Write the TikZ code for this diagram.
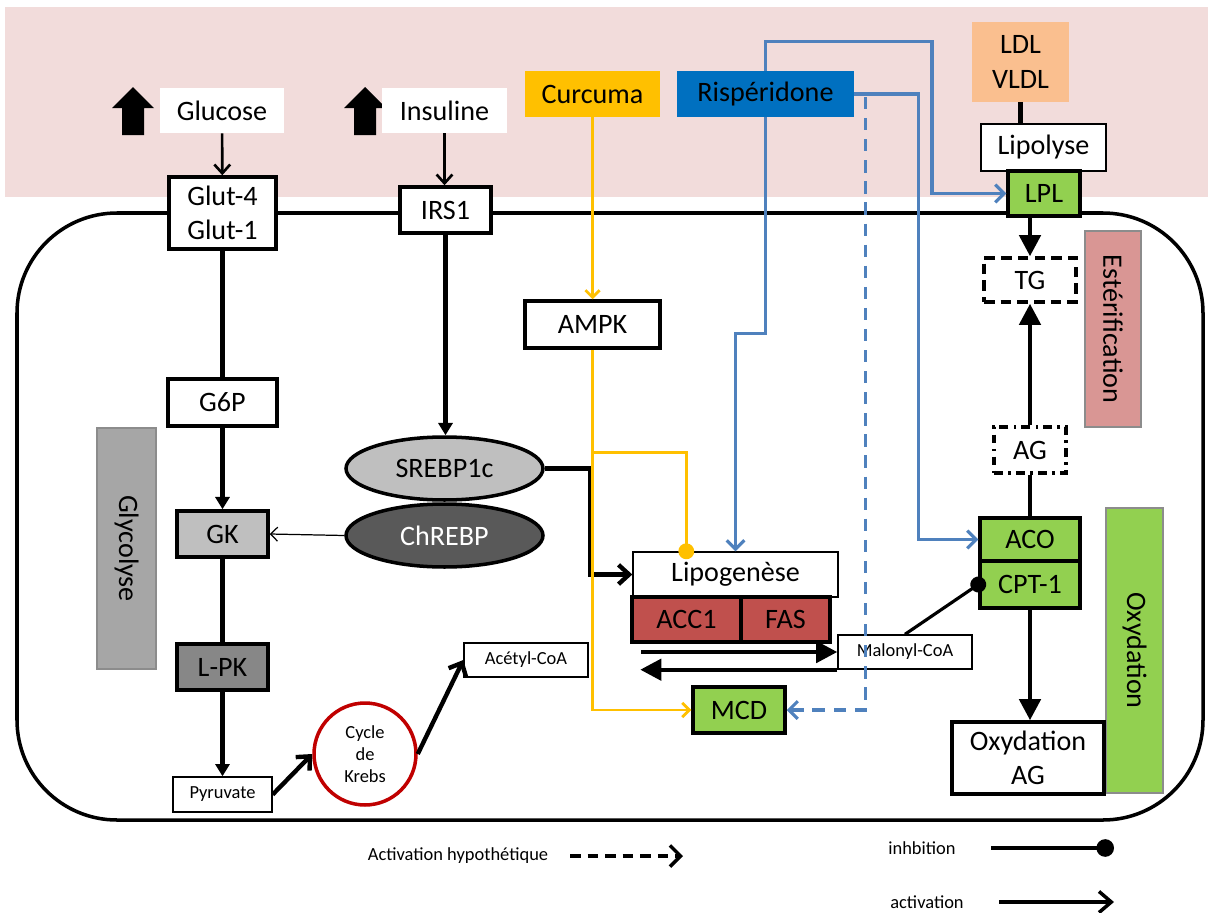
\documentclass[tikz,border=0pt]{standalone}
\usepackage{fontspec}
\setmainfont{Carlito}
\usepackage{tikz}
\usetikzlibrary{positioning, arrows.meta, shapes.geometric}
\definecolor{pinkbg}{RGB}{242,220,219}
\definecolor{curcumayellow}{RGB}{255,192,0}
\definecolor{rispblue}{RGB}{0,112,192}
\definecolor{linkblue}{RGB}{79,129,189}
\definecolor{leafgreen}{RGB}{146,208,80}
\definecolor{enzred}{RGB}{192,80,77}
\definecolor{esterpink}{RGB}{217,150,148}
\definecolor{ldlpeach}{RGB}{250,191,143}
\definecolor{krebsred}{RGB}{192,0,0}
\definecolor{gkgray}{RGB}{191,191,191}
\definecolor{lpkgray}{RGB}{135,135,135}
\definecolor{glycogray}{RGB}{166,166,166}
\definecolor{srebpgray}{RGB}{191,191,191}
\definecolor{chrebpgray}{RGB}{89,89,89}
\tikzset{
  bigtxt/.style={font=\fontsize{16}{19.5}\selectfont},
  smalltxt/.style={font=\fontsize{10.5}{12.7}\selectfont},
  plainbox/.style={fill=white, bigtxt, inner sep=0pt},
  drugbox/.style={bigtxt, inner sep=0pt},
  membox/.style={draw=black, line width=2pt, fill=white, bigtxt, inner sep=0pt},
  thinbox/.style={draw=black, line width=0.8pt, fill=white, bigtxt, inner sep=0pt},
  sidebar/.style={draw=black!45, line width=0.7pt, rotate=-90, bigtxt, inner sep=0pt},
  tfnode/.style={ellipse, draw=black, line width=2pt, bigtxt, inner sep=0pt},
  krebsnode/.style={circle, draw=krebsred, line width=2pt, fill=white, smalltxt,
    align=center, inner sep=0pt, minimum size=2.04cm},
  actthin/.style={line width=1.5pt, -{Straight Barb[length=5pt,width=9pt]}},
  actthick/.style={line width=2.5pt, -{Straight Barb[length=6pt,width=11pt]}},
  trismall/.style={line width=2.5pt, -{Triangle[length=7pt,width=8pt]}},
  tribig/.style={line width=2.5pt, -{Triangle[length=12pt,width=12pt]}},
  plainlink/.style={line width=2.5pt},
  thinlink/.style={line width=0.7pt, -{Straight Barb[length=4pt,width=8pt]}},
  yellowlink/.style={draw=curcumayellow, line width=1.6pt, -{Straight Barb[length=4pt,width=8pt]}},
  yellowinhib/.style={draw=curcumayellow, line width=1.6pt, -{Circle[length=9pt]}, shorten >=-4.5pt},
  bluelink/.style={draw=linkblue, line width=1.8pt, -{Straight Barb[length=5pt,width=10pt]}},
  bluedash/.style={bluelink, dash pattern=on 7pt off 5pt},
  inhib/.style={line width=1.8pt, -{Circle[length=9pt]}, shorten >=-4.5pt}
}

\begin{document}
\begin{tikzpicture}[x=0.02cm, y=-0.02cm]
  \useasboundingbox (0,0) rectangle (1208,913);
  \fill[pinkbg] (5,7) rectangle (1208,197);
  \draw[line width=2pt, rounded corners=2cm] (17,213) rectangle (1203,820);
  \foreach \xa in {133,365}
    \fill (\xa-11,135) -- (\xa-11,108) -- (\xa-21,108) -- (\xa,87) -- (\xa+21,108) -- (\xa+11,108) -- (\xa+11,135) -- cycle;

  \node[plainbox, minimum width=2.48cm, minimum height=0.9cm] (glucose) at (222,110.5) {Glucose};
  \node[plainbox, minimum width=2.5cm, minimum height=0.9cm] (insuline) at (444.5,110.5) {Insuline};
  \node[membox, minimum width=2.14cm, minimum height=1.44cm, align=center] (glut) at (222.5,213) {Glut-4\\Glut-1};
  \node[membox, minimum width=1.82cm, minimum height=0.92cm] (irs) at (445.5,210) {IRS1};
  \node[drugbox, fill=curcumayellow, minimum width=2.7cm, minimum height=0.92cm] (curcuma) at (592.5,94) {Curcuma};
  \node[drugbox, fill=rispblue, minimum width=3.54cm, minimum height=0.92cm] (risp) at (765.5,94) {Rispéridone};
  \node[drugbox, fill=ldlpeach, minimum width=1.94cm, minimum height=1.6cm, align=center] (ldl) at (1020.5,62) {LDL\\VLDL};
  \node[thinbox, minimum width=2.5cm, minimum height=0.94cm] (lipolyse) at (1043.5,147.5) {Lipolyse};
  \node[membox, fill=leafgreen, minimum width=1.44cm, minimum height=0.9cm] (lpl) at (1044,193.5) {LPL};
  \node[membox, dash pattern=on 6pt off 3.5pt, minimum width=1.84cm, minimum height=0.88cm] (tg) at (1030,280) {TG};
  \node[sidebar, fill=esterpink, minimum width=3.92cm, minimum height=1.12cm] (ester) at (1113,329) {Estérification};
  \node[membox, dash pattern=on 5pt off 3pt on 1.5pt off 3pt, minimum width=1.44cm, minimum height=0.92cm] (ag) at (1030,450) {AG};
  \node[membox, fill=leafgreen, minimum width=2cm, minimum height=0.86cm] (aco) at (1030,539.5) {ACO};
  \node[membox, fill=leafgreen, minimum width=2cm, minimum height=0.94cm] (cpt) at (1030,584.5) {CPT-1};
  \node[sidebar, fill=leafgreen, minimum width=5.7cm, minimum height=1.14cm] (oxbar) at (1134.5,650.5) {Oxydation};
  \node[membox, minimum width=3.04cm, minimum height=1.44cm, align=center] (oxag) at (1028,758) {Oxydation\\AG};

  \node[membox, minimum width=2.18cm, minimum height=0.94cm] (g6p) at (222.5,402.5) {G6P};
  \node[membox, fill=gkgray, minimum width=1.82cm, minimum height=0.92cm] (gk) at (222.5,534) {GK};
  \node[sidebar, fill=glycogray, minimum width=4.82cm, minimum height=1.18cm] (glyco) at (126.5,548.5) {Glycolyse};
  \node[membox, fill=lpkgray, minimum width=1.82cm, minimum height=0.92cm] (lpk) at (222.5,667) {L-PK};
  \node[thinbox, smalltxt, minimum width=1.98cm, minimum height=0.7cm] (pyruvate) at (222.5,794.5) {Pyruvate};
  \node[krebsnode] (krebs) at (365,754) {Cycle\\de\\Krebs};
  \node[thinbox, smalltxt, minimum width=2.48cm, minimum height=0.68cm] (acetyl) at (526,660) {Acétyl-CoA};
  \node[tfnode, fill=srebpgray, minimum width=3.94cm, minimum height=1.26cm] (srebp) at (444.5,468.5) {SREBP1c};
  \node[tfnode, fill=chrebpgray, text=white, minimum width=3.94cm, minimum height=1.26cm] (chrebp) at (444.5,535.5) {ChREBP};
  \node[membox, minimum width=2.7cm, minimum height=0.94cm] (ampk) at (592.5,324.5) {AMPK};
  \node[thinbox, minimum width=4.1cm, minimum height=0.9cm] (lipo) at (735.5,574.5) {Lipogenèse};
  \node[membox, fill=enzred, minimum width=2.18cm, minimum height=0.9cm] (acc) at (686.5,619.5) {ACC1};
  \node[membox, fill=enzred, minimum width=1.78cm, minimum height=0.9cm] (fas) at (785.5,619.5) {FAS};
  \node[thinbox, smalltxt, minimum width=2.68cm, minimum height=0.68cm] (malonyl) at (905,652) {Malonyl-CoA};
  \node[membox, fill=leafgreen, minimum width=1.84cm, minimum height=0.92cm] (mcd) at (739,710) {MCD};

  \node[smalltxt] (lghyp) at (458,856) {Activation hypothétique};
  \node[smalltxt] (lginh) at (922,848) {inhbition};
  \node[smalltxt] (lgact) at (927,902) {activation};
  \coordinate (hypa) at (570,856); \coordinate (hypb) at (683,856);
  \coordinate (inha) at (991,848); \coordinate (inhb) at (1114,848);
  \coordinate (acta) at (999,902); \coordinate (actb) at (1114,902);

  \draw[actthin] (glucose) -- (glut);
  \draw[actthin] (insuline.south) -- (insuline.south |- irs.north);
  \draw[plainlink] (glut) -- (g6p);
  \draw[trismall] (g6p) -- (gk);
  \draw[plainlink] (gk) -- (lpk);
  \draw[trismall] (lpk) -- (pyruvate);
  \draw[actthick] (pyruvate.east) -- (krebs.west);
  \draw[actthick] (krebs.east) -- (acetyl.west);
  \draw[trismall] (irs.south) -- (irs.south |- srebp.north);
  \draw[thinlink] (chrebp.west) -- (gk.east);
  \draw[actthick] (srebp.east) -- ++(45,0) |- (lipo.west);
  \draw[yellowlink] (curcuma) -- (ampk);
  \draw[yellowlink] (ampk.south) |- (mcd.west);
  \draw[yellowinhib] ([yshift=-2.06cm]ampk.south) -| ([xshift=1.08cm]lipo.north west);
  \draw[bluelink] (risp.north) -- ++(0,-29) -- ++(166.5,0) |- (lpl.west);
  \draw[bluelink] (risp.south) -- ++(0,216) -| (lipo.north);
  \draw[bluelink] (risp.east) -- ++(64,0) |- (aco.west);
  \draw[bluedash] ([shift={(0.22cm,-0.06cm)}]risp.east) |- (mcd.east);
  \draw[plainlink] (ldl.south) -- (ldl.south |- lipolyse.north);
  \draw[tribig] (tg.north |- lpl.south) -- (tg.north);
  \draw[tribig] (ag) -- (tg);
  \draw[plainlink] (aco) -- (ag);
  \draw[tribig] (cpt.south) -- (cpt.south |- oxag.north);
  \draw[tribig] ([xshift=0.22cm]acc.south west |- malonyl.west) -- (malonyl.west);
  \draw[tribig] (malonyl.south west) -- ([xshift=0.2cm]acc.south west |- malonyl.south west);
  \draw[inhib] (malonyl.north) -- (cpt.west);

  \draw[line width=2pt, dash pattern=on 6pt off 4pt, -{Straight Barb[length=6pt,width=12pt]}] (hypa) -- (hypb);
  \draw[line width=2pt, -{Circle[length=10pt]}] (inha) -- (inhb);
  \draw[line width=2pt, -{Straight Barb[length=7pt,width=12pt]}] (acta) -- (actb);
\end{tikzpicture}
\end{document}
